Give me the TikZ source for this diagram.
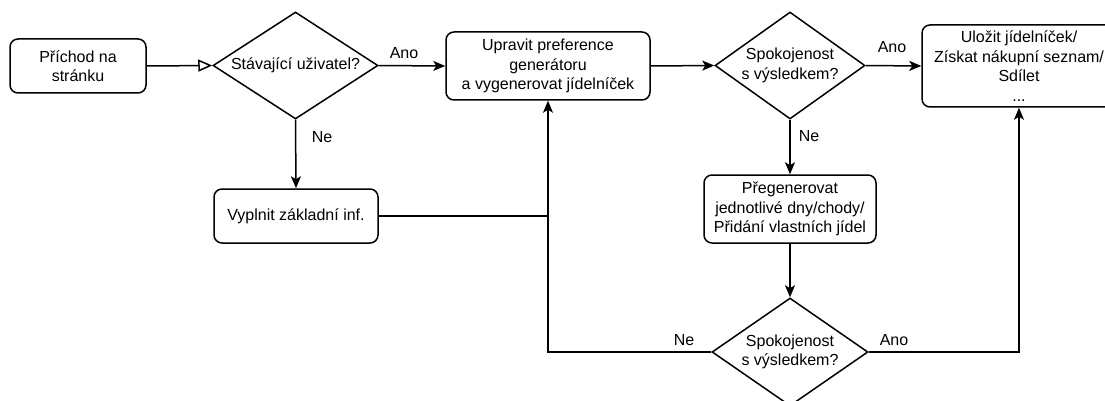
\documentclass[tikz,border=0pt]{standalone}
\usepackage{fontspec}
\setmainfont{Liberation Sans}
\usetikzlibrary{shapes.geometric,arrows.meta}
\tikzset{
  x=1pt,y=-1pt,
  every node/.style={font=\fontsize{16}{19.5}\selectfont},
  proc/.style={draw,line width=1.5pt,rounded corners=8pt,align=center,inner sep=0pt},
  dec/.style={draw,line width=1.5pt,diamond,align=center,inner sep=0pt},
  conn/.style={line width=1.5pt},
  arr/.style={conn,-{Stealth[length=12pt,width=10pt,inset=3pt]}},
  lbl/.style={inner sep=0pt}
}
\begin{document}
\begin{tikzpicture}
\useasboundingbox (0,0) rectangle (1105,401);
\clip (0,0) rectangle (1105,401);
\fill[white] (0,0) rectangle (1105,401);
% nodes
\node[proc,minimum width=136pt,minimum height=54pt] (start) at (78,66) {Příchod na\\stránku};
\node[dec,aspect=1.54,minimum width=165pt,minimum height=107pt] (d1) at (295.5,65.5) {Stávající uživatel?};
\node[proc,minimum width=164pt,minimum height=54pt] (vyp) at (296,216) {Vyplnit základní inf.};
\node[proc,minimum width=204pt,minimum height=68pt] (upr) at (548,66) {Upravit preference\\generátoru\\a vygenerovat jídelníček};
\node[dec,aspect=1.4,minimum width=150pt,minimum height=107pt] (d2) at (790,65.5) {Spokojenost\\s výsledkem?};
\node[proc,minimum width=194pt,minimum height=82pt] (res) at (1019,66) {Uložit jídelníček/\\Získat nákupní seznam/\\Sdílet\\...};
\node[proc,minimum width=172pt,minimum height=68pt] (preg) at (790,209) {Přegenerovat\\jednotlivé dny/chody/\\Přidání vlastních jídel};
\node[dec,aspect=1.44,minimum width=156pt,minimum height=108pt] (d3) at (790,352) {Spokojenost\\s výsledkem?};
\coordinate (join) at (548,216);
% connectors
\draw[conn,-{Triangle[open,length=14pt,width=12pt]}] (start.east) -- (d1.west);
\draw[arr] (d1.east) -- (upr.west);
\draw[arr] (d1.south) -- (vyp.north);
\draw[conn] (vyp.east) -- (join);
\draw[arr] (d3.west) -| (upr.south);
\draw[arr] (upr.east) -- (d2.west);
\draw[arr] (d2.east) -- (res.west);
\draw[arr] (d2.south) -- (preg.north);
\draw[arr] (preg.south) -- (d3.north);
\draw[arr] (d3.east) -| (res.south);
% labels
\node[lbl] (l1) at (404,53) {Ano};
\node[lbl] (l2) at (322,137) {Ne};
\node[lbl] (l3) at (892,47) {Ano};
\node[lbl] (l4) at (809,136) {Ne};
\node[lbl] (l5) at (684,340) {Ne};
\node[lbl] (l6) at (894,340) {Ano};
\end{tikzpicture}
\end{document}
